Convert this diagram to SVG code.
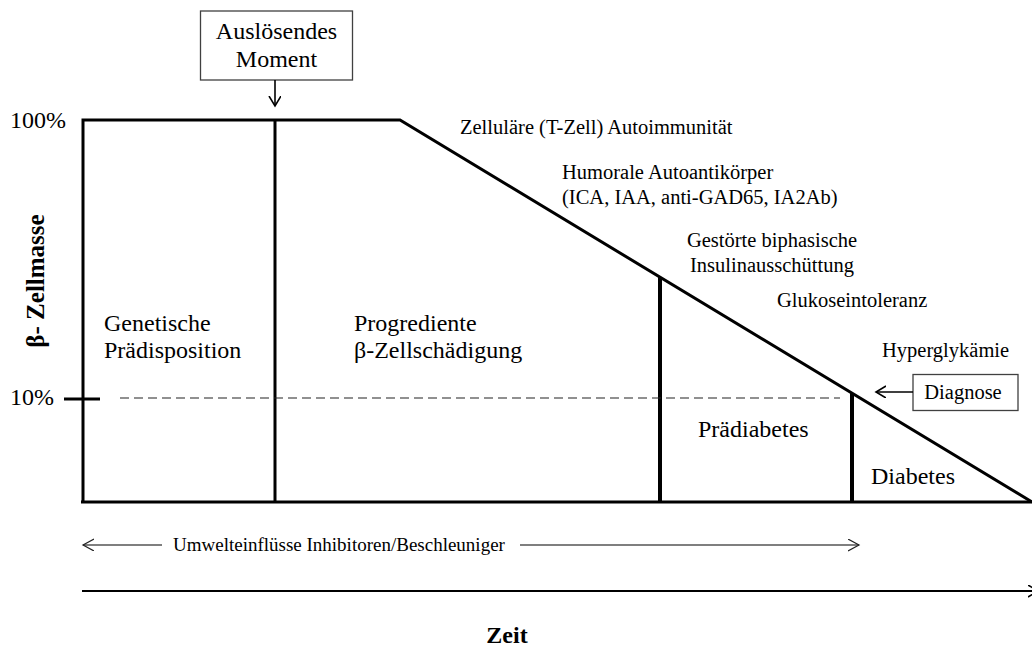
<svg xmlns="http://www.w3.org/2000/svg" width="1032" height="646" viewBox="0 0 1032 646">
<style>
text{font-family:"Liberation Serif","Times New Roman",serif;fill:#000}
.big{font-size:24px}
.med{font-size:20.5px}
.small{font-size:19px}
.bold{font-weight:bold}
.frame{stroke:#000;stroke-width:3;fill:none}
.thick{stroke:#000;stroke-width:4;fill:none}
.box{fill:#fff;stroke:#404040;stroke-width:1.3}
.thin{stroke:#000;stroke-width:1.2;fill:none}
</style>
<defs>
<marker id="open" markerUnits="userSpaceOnUse" markerWidth="14" markerHeight="14" refX="10" refY="6" orient="auto">
<path d="M0,0 L10,6 L0,12" fill="none" stroke="#000" stroke-width="1.6"/>
</marker>
<marker id="openThin" markerUnits="userSpaceOnUse" markerWidth="14" markerHeight="14" refX="11" refY="6" orient="auto">
<path d="M0,0 L11,6 L0,12" fill="none" stroke="#222" stroke-width="1.2"/>
</marker>
</defs>
<rect width="1032" height="646" fill="#fff"/>

<g id="axes">
<path class="frame" d="M83,502 L83,120 L400,120 L1032,502"/>
<line class="frame" x1="81" y1="502" x2="1032" y2="502"/>
<line class="frame" x1="64" y1="399" x2="100" y2="399"/>
<text class="big" x="10" y="128">100%</text>
<text class="big" x="10" y="405">10%</text>
<text class="bold" font-size="25" transform="translate(44,281) rotate(-90)" text-anchor="middle">β- Zellmasse</text>
</g>

<g id="dividers">
<line class="frame" x1="275" y1="120" x2="275" y2="502"/>
<line class="thick" x1="660" y1="277" x2="660" y2="502"/>
<line class="thick" x1="852" y1="393" x2="852" y2="502"/>
<line x1="120" y1="398" x2="840" y2="398" stroke="#222" stroke-width="1.2" stroke-dasharray="9,5"/>
</g>

<g id="trigger">
<rect class="box" x="200.5" y="11" width="152" height="69"/>
<text class="big" x="276.5" y="39" text-anchor="middle">Auslösendes</text>
<text class="big" x="276.5" y="67" text-anchor="middle">Moment</text>
</g>

<g id="diagnose">
<rect class="box" x="913" y="374.5" width="105" height="36"/>
<text class="med" x="963" y="399" text-anchor="middle">Diagnose</text>
</g>

<g id="phase-genetic">
<text class="big" x="104" y="331">Genetische</text>
<text class="big" x="104" y="358">Prädisposition</text>
</g>

<g id="phase-progressive">
<text class="big" x="354" y="331">Progrediente</text>
<text class="big" x="354" y="358">β-Zellschädigung</text>
</g>

<g id="phase-prediabetes">
<text class="big" x="698" y="437">Prädiabetes</text>
</g>

<g id="phase-diabetes">
<text class="big" x="871" y="484">Diabetes</text>
</g>

<g id="markers-labels">
<text class="med" x="460" y="134">Zelluläre (T-Zell) Autoimmunität</text>
<text class="med" x="562" y="179">Humorale Autoantikörper</text>
<text class="med" x="562" y="204">(ICA, IAA, anti-GAD65, IA2Ab)</text>
<text class="med" x="772" y="247" text-anchor="middle">Gestörte biphasische</text>
<text class="med" x="772" y="272" text-anchor="middle">Insulinausschüttung</text>
<text class="med" x="777" y="307">Glukoseintoleranz</text>
<text class="med" x="882" y="357">Hyperglykämie</text>
</g>

<g id="environment">
<text class="small" x="173" y="551">Umwelteinflüsse Inhibitoren/Beschleuniger</text>
</g>

<g id="time">
<text class="big bold" x="507" y="643" text-anchor="middle">Zeit</text>
</g>

<g id="connectors">
<line x1="275" y1="80" x2="275" y2="106" stroke="#000" stroke-width="1.6" marker-end="url(#open)"/>
<line x1="913" y1="392" x2="876" y2="392" stroke="#000" stroke-width="1.6" marker-end="url(#open)"/>
<line class="thin" x1="162" y1="545" x2="83" y2="545" marker-end="url(#openThin)"/>
<line class="thin" x1="520" y1="545" x2="859" y2="545" marker-end="url(#openThin)"/>
<line x1="82" y1="591" x2="1038" y2="591" stroke="#000" stroke-width="2" marker-end="url(#open)"/>
</g>
</svg>
